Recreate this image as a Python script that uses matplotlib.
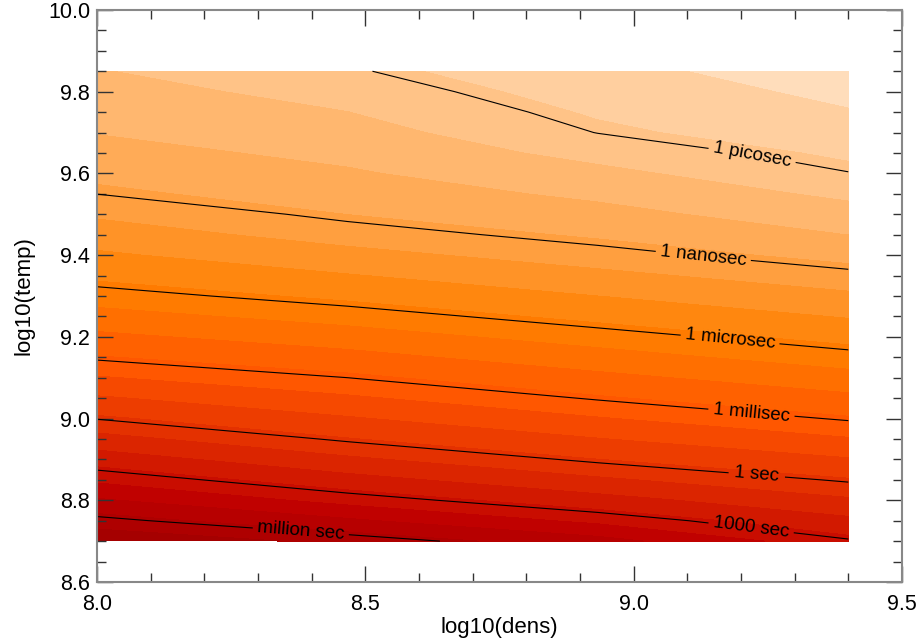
import numpy as np
import matplotlib.pyplot as plt
from matplotlib.colors import ListedColormap
from matplotlib.ticker import MultipleLocator, FormatStrFormatter

plt.rcParams['font.family'] = ['Liberation Sans', 'DejaVu Sans']

# grid the timescales were computed on
log_dens = [8.0, 8.4667, 8.9333, 9.4]
log_temp = [8.70, 8.75, 8.80, 8.85, 8.90, 8.95, 9.00, 9.05, 9.10, 9.15, 9.20, 9.25,
            9.30, 9.35, 9.40, 9.45, 9.50, 9.55, 9.60, 9.65, 9.70, 9.75, 9.80, 9.85]

# log10(timescale / sec), one column per density
tau_d800 = [7.65, 6.27, 4.93, 3.60, 2.34, 1.15, -0.04, -1.08, -2.12, -3.14, -3.98, -4.83,
            -5.67, -6.40, -7.05, -7.70, -8.35, -9.01, -9.42, -9.84, -10.24, -10.54, -10.84, -11.15]
tau_d847 = [6.48, 4.97, 3.45, 2.17, 0.99, -0.15, -1.10, -2.05, -3.00, -3.87, -4.73, -5.60,
            -6.40, -7.14, -7.88, -8.62, -9.21, -9.64, -10.08, -10.47, -10.83, -11.19, -11.55, -11.90]
tau_d893 = [5.18, 3.55, 2.19, 0.97, -0.19, -1.16, -2.13, -3.09, -3.94, -4.80, -5.65, -6.45,
            -7.20, -7.95, -8.70, -9.33, -9.87, -10.42, -10.96, -11.51, -12.02, -12.31, -12.60, -12.90]
tau_d940 = [3.11, 2.03, 0.95, -0.12, -1.12, -2.12, -3.10, -3.97, -4.84, -5.71, -6.51, -7.27,
            -8.02, -8.78, -9.50, -10.21, -10.82, -11.41, -11.97, -12.36, -12.75, -13.14, -13.45, -13.75]

line_levels = [-12, -9, -6, -3, 0, 3, 6]
line_names = ['1 picosec', '1 nanosec', '1 microsec', '1 millisec', '1 sec', '1000 sec', 'million sec']
label_spots = [(9.22, 9.64), (9.13, 9.40), (9.18, 9.197), (9.22, 9.02),
               (9.23, 8.869), (9.22, 8.742), (8.38, 8.727)]

Z = np.column_stack([tau_d800, tau_d847, tau_d893, tau_d940])

fig = plt.figure(figsize=(9.2, 6.42), dpi=100)
ax = fig.add_axes([0.1054, 0.0935, 0.875, 0.891])

fill_levels = np.arange(-15, 9) - 0.2
cmap = ListedColormap(plt.cm.gist_heat(np.linspace(0.94, 0.42, 256)))
ax.contourf(log_dens, log_temp, Z, levels=fill_levels, cmap=cmap, vmin=-14.2, vmax=7.8)

cs = ax.contour(log_dens, log_temp, Z, levels=line_levels, colors='black',
                linewidths=0.8, linestyles='solid')
ax.clabel(cs, fmt=dict(zip(line_levels, line_names)), manual=label_spots,
          fontsize=13.5, inline=True, inline_spacing=8)

ax.set_xlim(8.0, 9.5)
ax.set_ylim(8.6, 10.0)
ax.xaxis.set_major_locator(MultipleLocator(0.5))
ax.xaxis.set_minor_locator(MultipleLocator(0.1))
ax.yaxis.set_major_locator(MultipleLocator(0.2))
ax.yaxis.set_minor_locator(MultipleLocator(0.05))
ax.xaxis.set_major_formatter(FormatStrFormatter('%.1f'))
ax.yaxis.set_major_formatter(FormatStrFormatter('%.1f'))

ax.tick_params(which='both', direction='in', top=True, right=True, width=1, color='#333333')
ax.tick_params(which='major', length=11.5, labelsize=15.5)
ax.tick_params(axis='x', which='major', pad=9)
ax.tick_params(axis='y', which='major', pad=5)
ax.tick_params(which='minor', length=6.5)
for s in ax.spines.values():
    s.set_color('#888888')
    s.set_linewidth(1.5)

ax.set_xlabel('log10(dens)', fontsize=16, labelpad=1)
ax.set_ylabel('log10(temp)', fontsize=16, labelpad=10)

fig.savefig('out.png', dpi=100)
